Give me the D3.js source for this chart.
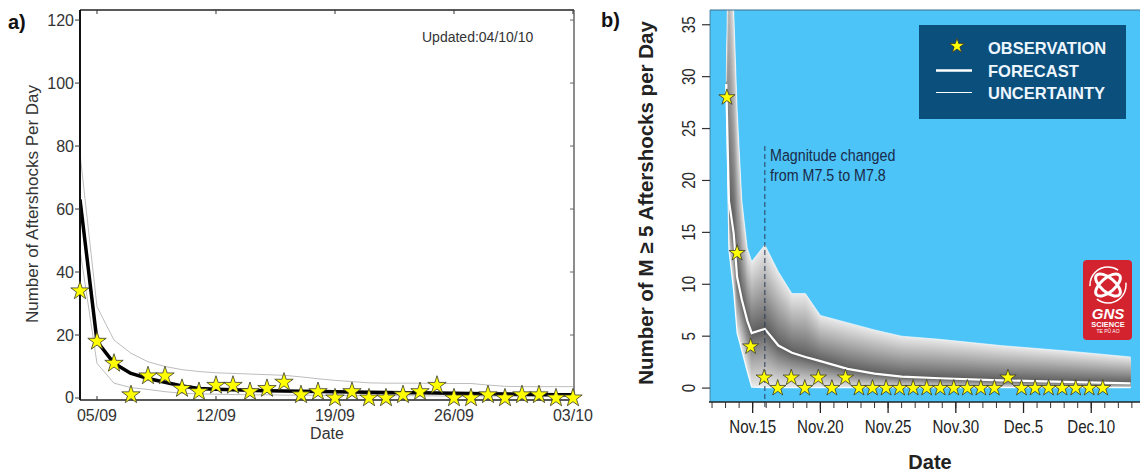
<!DOCTYPE html>
<html>
<head>
<meta charset="utf-8">
<script src="https://cdn.jsdelivr.net/npm/d3@7"></script>
<style>
  html, body { margin: 0; padding: 0; background: #fff; }
  svg { display: block; }
</style>
</head>
<body>
<svg id="chart" width="1140" height="473"></svg>
<script>
// ---------------- Panel a data (Darfield, Sept 2010) ----------------
const aDays = [4,5,6,7,8,9,10,11,12,13,14,15,16,17,18,19,20,21,22,23,24,25,26,27,28,29,30,31,32,33];
const aObserved = [34,18,11,1,7,7,3,2,4,4,2,3,5,1,2,0,2,0,0,1,2,4,0,0,1,0,1,1,0,0];
const aForecast = [63,18,11,7.8,6.2,5.0,3.8,3.0,2.8,2.6,2.45,2.3,2.2,2.1,2.05,1.95,1.9,1.8,1.75,1.7,1.65,1.6,1.5,1.45,1.35,1.3,1.2,1.1,1.05,1.0];
const aUpper = [77.6,29,18.4,14.2,11.5,10,9,8.4,8,7.8,7.6,7.4,7.2,6.7,6.1,5.6,5.2,4.8,4.7,4.7,4.7,4.6,4.6,4.6,4.1,3.7,3.6,3.6,3.6,3.6];
const aLower = [47,11,4.7,3.3,2.7,2.0,1.5,1.3,1.2,1.1,1.0,1.0,0.9,0.9,0.85,0.8,0.8,0.75,0.7,0.7,0.7,0.65,0.6,0.6,0.6,0.55,0.5,0.5,0.5,0.5];
const aYTicks = [0,20,40,60,80,100,120];
const aXTicks = [5,12,19,26,33];
const aXTickLabels = ["05/09","12/09","19/09","26/09","03/10"];

// ---------------- Panel b data (Kaikoura, Nov-Dec 2016) ----------------
const bObsDays = [13.1,13.85,14.85,15.85,16.85,17.85,18.85,19.85,20.85,21.85,22.85,23.85,24.85,25.85,26.85,27.85,28.85,29.85,30.85,31.85,32.85,33.85,34.85,35.85,36.85,37.85,38.85,39.85,40.85];
const bObserved = [28,13,4,1,0,1,0,1,0,1,0,0,0,0,0,0,0,0,0,0,0,1,0,0,0,0,0,0,0];
const bBandDays = [13.05,13.25,13.6,13.85,14.2,14.6,14.93,15.9,16.9,17.9,18.9,20.0,22.0,24.0,26.0,28.8,33.3,38.0,42.9];
const bUpper    = [29.5,48,36.5,27,18.1,13.5,12.2,13.8,11.2,9.1,9.1,7.0,6.3,5.6,5.0,4.7,4.1,3.6,3.0];
const bForecast = [29.3,18,14.9,10.7,8.5,6.5,5.3,5.7,4.1,3.4,3.0,2.6,1.85,1.4,1.1,0.95,0.75,0.6,0.45];
const bLower    = [29.3,13.3,9.3,5.3,3.6,1.6,0.1,0.05,0.05,0.05,0.05,0.05,0.05,0.05,0.05,0.05,0.05,0.05,0.05];
const bYTicks = [0,5,10,15,20,25,30,35];
const bXMajor = [15,20,25,30,35,40];
const bXMinor = [12,13,14,15,16,17,18,19,20,21,22,23,24,25,26,27,28,29,30,31,32,33,34,35,36,37,38,39,40,41,42,43];
const bChangeDay = 15.9;

const svg = d3.select("#chart");
const SANS = "'Liberation Sans', Arial, Helvetica, sans-serif";
const NARROW_SCALE = 0.84; // condensed look for panel b labels

// helper: condensed text (real text, horizontally squeezed)
function narrowText(parent, x, y, txt, opts) {
  const g = parent.append("g").attr("transform", `translate(${x},${y})${opts.rotate ? " rotate(-90)" : ""} scale(${NARROW_SCALE},1)`);
  return g.append("text").attr("x",0).attr("y",0)
    .attr("text-anchor", opts.anchor || "start")
    .attr("font-family", SANS).attr("font-size", opts.size)
    .attr("fill", opts.fill || "#2a2a2a").text(txt);
}

// ================= PANEL A =================
const xa = d3.scaleLinear().domain([4, 33.06]).range([80, 574]);
const ya = d3.scaleLinear().domain([-0.64, 123.2]).range([400, 10]);
const ga = svg.append("g");

ga.append("defs").append("clipPath").attr("id","clipA")
  .append("rect").attr("x",80).attr("y",10).attr("width",494).attr("height",390);

const plotA = ga.append("g").attr("clip-path","url(#clipA)");
const lineA = (arr) => d3.line().x((d,i)=>xa(aDays[i])).y(d=>ya(d))(arr);
plotA.append("path").attr("d", lineA(aUpper)).attr("fill","none").attr("stroke","#bdbdbd").attr("stroke-width",1);
plotA.append("path").attr("d", lineA(aLower)).attr("fill","none").attr("stroke","#bdbdbd").attr("stroke-width",1);
plotA.append("path").attr("d", lineA(aForecast)).attr("fill","none").attr("stroke","#000").attr("stroke-width",3.5).attr("stroke-linejoin","round");

// frame
ga.append("line").attr("x1",80).attr("x2",574).attr("y1",10).attr("y2",10).attr("stroke","#222").attr("stroke-width",1.3);
ga.append("line").attr("x1",80).attr("x2",574).attr("y1",400).attr("y2",400).attr("stroke","#222").attr("stroke-width",1.5);
ga.append("line").attr("x1",80).attr("x2",80).attr("y1",10).attr("y2",400).attr("stroke","#111").attr("stroke-width",2);
ga.append("line").attr("x1",574).attr("x2",574).attr("y1",10).attr("y2",400).attr("stroke","#666").attr("stroke-width",1.5);

// y ticks (outside left, inside right)
aYTicks.forEach(v=>{
  ga.append("line").attr("x1",75).attr("x2",80).attr("y1",ya(v)).attr("y2",ya(v)).attr("stroke","#333");
  ga.append("line").attr("x1",570).attr("x2",574).attr("y1",ya(v)).attr("y2",ya(v)).attr("stroke","#666");
  ga.append("text").attr("x",74).attr("y",ya(v)+5.5).attr("text-anchor","end")
    .attr("font-family",SANS).attr("font-size",16).attr("fill","#333").text(v);
});
// x ticks (inside top and bottom)
aXTicks.forEach((v,i)=>{
  ga.append("line").attr("x1",xa(v)).attr("x2",xa(v)).attr("y1",10).attr("y2",14).attr("stroke","#333");
  ga.append("line").attr("x1",xa(v)).attr("x2",xa(v)).attr("y1",396).attr("y2",400).attr("stroke","#333");
  ga.append("text").attr("x",xa(v)).attr("y",421).attr("text-anchor","middle")
    .attr("font-family",SANS).attr("font-size",16).attr("fill","#333").text(aXTickLabels[i]);
});
ga.append("text").attr("x",327).attr("y",439).attr("text-anchor","middle")
  .attr("font-family",SANS).attr("font-size",16).attr("fill","#333").text("Date");
ga.append("text").attr("transform","translate(38,204) rotate(-90)").attr("text-anchor","middle")
  .attr("font-family",SANS).attr("font-size",17).attr("fill","#333").text("Number of Aftershocks Per Day");
ga.append("text").attr("x",422).attr("y",41.5)
  .attr("font-family",SANS).attr("font-size",14).attr("fill","#333").text("Updated:04/10/10");
ga.append("text").attr("x",8).attr("y",29)
  .attr("font-family",SANS).attr("font-size",20).attr("font-weight","bold").attr("fill","#111").text("a)");

const starA = d3.symbol().type(d3.symbolStar).size(105);
ga.selectAll(null).data(aObserved).enter().append("path")
  .attr("d", starA)
  .attr("transform",(d,i)=>`translate(${xa(aDays[i])},${ya(d)})`)
  .attr("fill","#ffff00").attr("stroke","#3a3a2a").attr("stroke-width",0.8);

// ================= PANEL B =================
const xb = d3.scaleLinear().domain([11.85, 43.6]).range([710, 1140]);
const yb = d3.scaleLinear().domain([-1.34, 36.42]).range([402, 10]);
const gb = svg.append("g");

gb.append("rect").attr("x",710).attr("y",10).attr("width",430).attr("height",392).attr("fill","#4cc4f8");
gb.append("defs").append("clipPath").attr("id","clipB")
  .append("rect").attr("x",710).attr("y",10).attr("width",430).attr("height",392);
const plotB = gb.append("g").attr("clip-path","url(#clipB)");

// uncertainty band, shaded in nested layers
const N = 40;
const grayAt = d3.interpolateRgb("#5a5a5a", "#e9e9e9");
for (let k = 0; k < N; k++) {
  const t = 1 - k / N;
  const area = d3.area()
    .x((d,i)=>xb(bBandDays[i]))
    .y0((d,i)=>yb(bForecast[i] - t*(bForecast[i]-bLower[i])))
    .y1((d,i)=>yb(bForecast[i] + t*(bUpper[i]-bForecast[i])));
  plotB.append("path").attr("d", area(bBandDays)).attr("fill", grayAt(Math.pow(t,0.95)));
}
const lineB = (arr) => d3.line().x((d,i)=>xb(bBandDays[i])).y(d=>yb(d))(arr);
plotB.append("path").attr("d", lineB(bUpper)).attr("fill","none").attr("stroke","#fff").attr("stroke-opacity",0.6).attr("stroke-width",1);
plotB.append("path").attr("d", lineB(bLower)).attr("fill","none").attr("stroke","#fff").attr("stroke-opacity",0.9).attr("stroke-width",1.2);
plotB.append("path").attr("d", lineB(bForecast)).attr("fill","none").attr("stroke","#fff").attr("stroke-width",2.2);

// frame top/left
gb.append("line").attr("x1",710).attr("x2",1140).attr("y1",10).attr("y2",10).attr("stroke","#3d6d8a").attr("stroke-width",1.2);
gb.append("line").attr("x1",710).attr("x2",710).attr("y1",10).attr("y2",402).attr("stroke","#3d6d8a").attr("stroke-width",0.8);

// change-of-magnitude dashed line
gb.append("line").attr("x1",xb(bChangeDay)).attr("x2",xb(bChangeDay)).attr("y1",146).attr("y2",410)
  .attr("stroke","#2b3b58").attr("stroke-width",1).attr("stroke-dasharray","5,3");
narrowText(gb, 770, 161, "Magnitude changed", {size:17, fill:"#1a2a48"});
narrowText(gb, 770, 181, "from M7.5 to M7.8", {size:17, fill:"#1a2a48"});

// stars
const starB = d3.symbol().type(d3.symbolStar).size(82);
gb.selectAll(null).data(bObserved).enter().append("path")
  .attr("d", starB)
  .attr("transform",(d,i)=>`translate(${xb(bObsDays[i])},${yb(d)})`)
  .attr("fill","#ffff00").attr("stroke","#3a3a2a").attr("stroke-width",0.8);

// x axis
gb.append("line").attr("x1",709).attr("x2",1140).attr("y1",402).attr("y2",402).attr("stroke","#222").attr("stroke-width",1.5);
bXMinor.forEach(v=>{
  gb.append("line").attr("x1",xb(v)).attr("x2",xb(v)).attr("y1",402).attr("y2",408).attr("stroke","#333").attr("stroke-width",1);
});
bXMajor.forEach(v=>{
  gb.append("line").attr("x1",xb(v)).attr("x2",xb(v)).attr("y1",402).attr("y2",413).attr("stroke","#222").attr("stroke-width",1.3);
  const lab = v <= 30 ? "Nov." + v : "Dec." + (v - 30);
  narrowText(gb, xb(v), 433, lab, {size:18, anchor:"middle", fill:"#222"});
});
gb.append("text").attr("x",930).attr("y",469).attr("text-anchor","middle")
  .attr("font-family",SANS).attr("font-size",20).attr("font-weight","bold").attr("fill","#222").text("Date");

// y axis
bYTicks.forEach(v=>{
  gb.append("line").attr("x1",702).attr("x2",710).attr("y1",yb(v)).attr("y2",yb(v)).attr("stroke","#333").attr("stroke-width",1.2);
  narrowText(gb, 695, yb(v), v, {size:18, anchor:"middle", rotate:true});
});
gb.append("text").attr("transform","translate(653,203) rotate(-90)").attr("text-anchor","middle")
  .attr("font-family",SANS).attr("font-size",20.5).attr("font-weight","bold").attr("fill","#222").text("Number of M \u2265 5 Aftershocks per Day");
gb.append("text").attr("x",601).attr("y",27)
  .attr("font-family",SANS).attr("font-size",20).attr("font-weight","bold").attr("fill","#111").text("b)");

// legend
const lg = gb.append("g");
lg.append("rect").attr("x",919).attr("y",25).attr("width",207).attr("height",94).attr("fill","#0b4f7c");
lg.append("path").attr("d", d3.symbol().type(d3.symbolStar).size(70)).attr("transform","translate(957,46)")
  .attr("fill","#ffff00").attr("stroke","#333").attr("stroke-width",0.8);
lg.append("line").attr("x1",936).attr("x2",972).attr("y1",70.5).attr("y2",70.5).attr("stroke","#fff").attr("stroke-width",2.5);
lg.append("line").attr("x1",936).attr("x2",972).attr("y1",92.5).attr("y2",92.5).attr("stroke","#fff").attr("stroke-width",1);
[["OBSERVATION",53.5],["FORECAST",77],["UNCERTAINTY",98.5]].forEach(([t,y])=>{
  lg.append("text").attr("x",988).attr("y",y).attr("font-family",SANS).attr("font-size",16.5)
    .attr("font-weight","bold").attr("fill","#eef6ff").text(t);
});

// GNS Science logo
const logo = gb.append("g");
logo.append("rect").attr("x",1083).attr("y",260).attr("width",49).attr("height",80).attr("rx",4).attr("fill","#d2232f");
logo.append("ellipse").attr("cx",1108).attr("cy",285).attr("rx",15).attr("ry",7).attr("transform","rotate(40,1108,285)")
  .attr("fill","none").attr("stroke","#fff").attr("stroke-width",3);
logo.append("ellipse").attr("cx",1108).attr("cy",285).attr("rx",15).attr("ry",7).attr("transform","rotate(-40,1108,285)")
  .attr("fill","none").attr("stroke","#fff").attr("stroke-width",3);
logo.append("circle").attr("cx",1108).attr("cy",285).attr("r",18).attr("fill","none").attr("stroke","#fff").attr("stroke-width",1.5).attr("stroke-dasharray","40,15");
logo.append("text").attr("x",1108).attr("y",318.5).attr("text-anchor","middle").attr("font-family",SANS)
  .attr("font-size",15).attr("font-weight","bold").attr("font-style","italic").attr("fill","#fff").text("GNS");
logo.append("text").attr("x",1108).attr("y",326.5).attr("text-anchor","middle").attr("font-family",SANS)
  .attr("font-size",7.5).attr("font-weight","bold").attr("fill","#fff").text("SCIENCE");
logo.append("text").attr("x",1108).attr("y",333).attr("text-anchor","middle").attr("font-family",SANS)
  .attr("font-size",5).attr("fill","#fff").text("TE PŪ AO");
</script>
</body>
</html>
